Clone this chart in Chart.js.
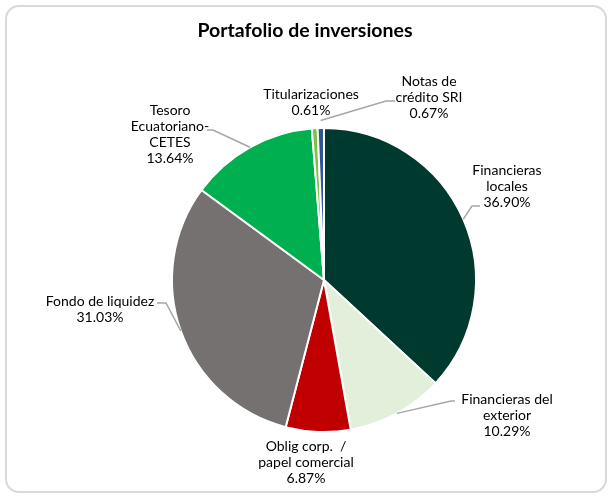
<!DOCTYPE html>
<html>
<head>
<meta charset="utf-8">
<script src="https://cdn.jsdelivr.net/npm/chart.js@4"></script>
<style>
  html,body{margin:0;padding:0;background:#fff;}
  #wrap{position:relative;width:608px;height:500px;}
  #frame{position:absolute;left:5px;top:5px;width:602px;height:488px;border:2px solid #d9d9d9;border-radius:14px;box-sizing:border-box;}
  canvas{position:absolute;left:0;top:0;}
</style>
</head>
<body>
<div id="wrap">
  <div id="frame"></div>
  <canvas id="c" width="608" height="500"></canvas>
</div>
<script>
const categories = ["Financieras locales","Financieras del exterior","Oblig corp. / papel comercial","Fondo de liquidez","Tesoro Ecuatoriano-CETES","Titularizaciones","Notas de crédito SRI"];
const values = [36.90, 10.29, 6.87, 31.03, 13.64, 0.61, 0.67];
const labelLines = [
  ["Financieras","locales"],
  ["Financieras del","exterior"],
  ["Oblig corp.  /","papel comercial"],
  ["Fondo de liquidez"],
  ["Tesoro","Ecuatoriano-","CETES"],
  ["Titularizaciones"],
  ["Notas de","crédito SRI"]
];
const colors = ["#003a2f","#e2efda","#c00000","#767171","#00b050","#7cc142","#2f5597"];
const titleText = "Portafolio de inversiones";

// label layout: text center x, first line center y, leader [startX,startY,elbowX,elbowY] (or null), radial factor
const labelLayout = [
  {x:507, y:170, leader:[480,206,472,206], f:1.0},
  {x:507, y:399, leader:[455,401,451,401], f:1.0},
  {x:306, y:446, leader:null},
  {x:100, y:301, leader:[157,303,166,303], f:1.0},
  {x:170, y:110, leader:[207,130,213,130], f:1.0},
  {x:311, y:94, leader:null},
  {x:429, y:81, leader:[395,101,386,101], f:1.05}
];

const labelPlugin = {
  id:'labels',
  afterDraw(chart){
    const ctx = chart.ctx;
    const meta = chart.getDatasetMeta(0);
    ctx.save();
    ctx.fillStyle = "#000";
    ctx.font = "bold 19.5px Lato";
    ctx.textAlign = "center";
    ctx.textBaseline = "middle";
    ctx.fillText(titleText, 305, 31);
    ctx.font = "14px Lato";
    meta.data.forEach((arc,i)=>{
      const p = arc.getProps(['x','y','startAngle','endAngle','outerRadius'], true);
      const L = labelLayout[i];
      const lines = labelLines[i].concat([values[i].toFixed(2)+"%"]);
      const lh = 16;
      lines.forEach((t,k)=>{
        ctx.fillStyle = "#000";
        ctx.fillText(t, L.x, L.y + k*lh);
      });
      if (L.leader){
        const mid = (p.startAngle + p.endAngle)/2;
        const r = p.outerRadius * L.f;
        const ex = p.x + Math.cos(mid)*r, ey = p.y + Math.sin(mid)*r;
        ctx.strokeStyle = "#a6a6a6";
        ctx.lineWidth = 1.5;
        ctx.beginPath();
        ctx.moveTo(L.leader[0], L.leader[1]);
        ctx.lineTo(L.leader[2], L.leader[3]);
        ctx.lineTo(ex, ey);
        ctx.stroke();
      }
    });
    ctx.restore();
  }
};

new Chart(document.getElementById('c'), {
  type:'pie',
  data:{
    labels: categories,
    datasets:[{
      data: values,
      backgroundColor: colors,
      borderColor: "#ffffff",
      borderWidth: 2
    }]
  },
  options:{
    responsive:false,
    animation:false,
    layout:{padding:{left:171, right:131, top:127, bottom:67}},
    plugins:{legend:{display:false}, tooltip:{enabled:false}, title:{display:false}}
  },
  plugins:[labelPlugin]
});
</script>
</body>
</html>
